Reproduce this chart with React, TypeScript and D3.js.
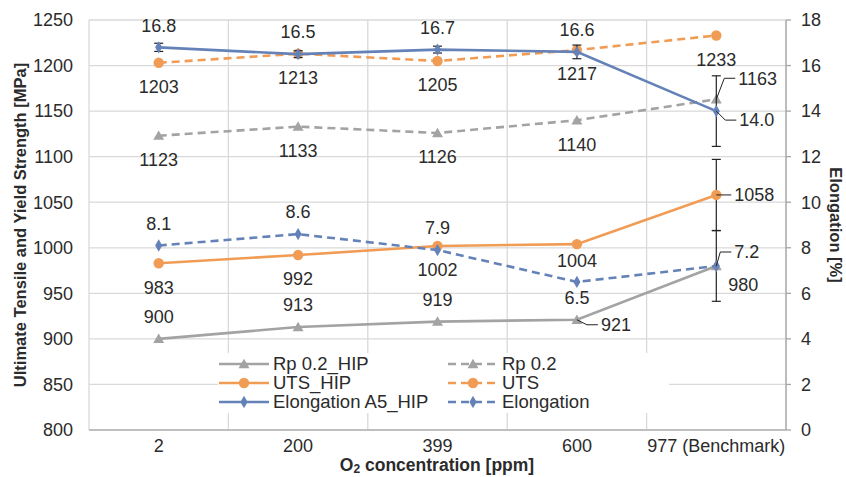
import * as d3 from 'd3';

const categories = ['2', '200', '399', '600', '977 (Benchmark)'];

const rpHip = [900, 913, 919, 921, 980];
const utsHip = [983, 992, 1002, 1004, 1058];
const elongHip = [16.8, 16.5, 16.7, 16.6, 14.0];
const rp = [1123, 1133, 1126, 1140, 1163];
const uts = [1203, 1213, 1205, 1217, 1233];
const elong = [8.1, 8.6, 7.9, 6.5, 7.2];

// error bars
const elongHipErr = [0.18, 0.15, 0.15, 0.3, 1.55];
const utsHipErr = [0, 0, 0, 0, 39];
const elongErr = [0, 0, 0, 0, 1.55];

const leftTicks = [800, 850, 900, 950, 1000, 1050, 1100, 1150, 1200, 1250];
const rightTicks = [0, 2, 4, 6, 8, 10, 12, 14, 16, 18];

const GRAY = '#a3a3a3';
const ORANGE = '#f19c55';
const BLUE = '#6482b8';
const FONT = '"Liberation Sans", Arial, sans-serif';
const TXT = '#2b2b2b';

const W = 846;
const H = 477;
const m = { left: 89, right: 786, top: 20, bottom: 430 };

const x = d3.scaleBand().domain(categories).range([m.left, m.right]).padding(0);
const cx = (i: number) => (x(categories[i]) as number) + x.bandwidth() / 2;
const yL = d3.scaleLinear().domain([800, 1250]).range([m.bottom, m.top]);
const yR = d3.scaleLinear().domain([0, 18]).range([m.bottom, m.top]);

type Pos = { kind: 'above' | 'below' | 'right'; dx?: number; dy?: number; leader?: boolean };
const A: Pos = { kind: 'above' };
const B: Pos = { kind: 'below' };

const series = [
  { name: 'Rp 0.2_HIP', values: rpHip, axis: 'L', color: GRAY, dash: false, marker: 'tri', err: null, fmt: 'd',
    labels: [A, A, A, { kind: 'right', dx: 24, dy: 5, leader: true }, { kind: 'right', dx: 12, dy: 19 }] as Pos[] },
  { name: 'UTS_HIP', values: utsHip, axis: 'L', color: ORANGE, dash: false, marker: 'circle', err: utsHipErr, fmt: 'd',
    labels: [B, B, B, { kind: 'below', dy: -7 }, { kind: 'right', dx: 18, dy: 0, leader: true }] as Pos[] },
  { name: 'Elongation A5_HIP', values: elongHip, axis: 'R', color: BLUE, dash: false, marker: 'diamond', err: elongHipErr, fmt: '.1f',
    labels: [A, A, A, A, { kind: 'right', dx: 23, dy: 9, leader: true }] as Pos[] },
  { name: 'Rp 0.2', values: rp, axis: 'L', color: GRAY, dash: true, marker: 'tri', err: null, fmt: 'd',
    labels: [B, B, B, B, { kind: 'right', dx: 22, dy: -21, leader: true }] as Pos[] },
  { name: 'UTS', values: uts, axis: 'L', color: ORANGE, dash: true, marker: 'circle', err: null, fmt: 'd',
    labels: [B, B, B, B, B] as Pos[] },
  { name: 'Elongation', values: elong, axis: 'R', color: BLUE, dash: true, marker: 'diamond', err: elongErr, fmt: '.1f',
    labels: [A, A, A, { kind: 'below', dy: -8 }, { kind: 'right', dx: 18, dy: -14, leader: true }] as Pos[] },
];

function Marker({ type, x0, y0, color }: { type: string; x0: number; y0: number; color: string }) {
  if (type === 'circle') return <circle cx={x0} cy={y0} r={5.2} fill={color} />;
  const sym = type === 'tri' ? d3.symbolTriangle : d3.symbolDiamond;
  const size = type === 'tri' ? 52 : 44;
  return <path d={d3.symbol(sym, size)() as string} transform={`translate(${x0},${y0 + (type === 'tri' ? 1 : 0)})`} fill={color} />;
}

export default function App() {
  const drawOrder = [0, 1, 3, 4, 2, 5];
  return (
    <svg width={W} height={H} style={{ position: 'absolute', left: 0, top: 0, background: '#fff' }} fontFamily={FONT}>
      <rect width={W} height={H} fill="#fff" />
      {/* gridlines */}
      {leftTicks.map((t) => (
        <line key={'h' + t} x1={m.left} x2={m.right} y1={yL(t)} y2={yL(t)} stroke="#d9d9d9" strokeWidth={1.3} />
      ))}
      {categories.map((c) => (
        <line key={'v' + c} x1={x(c)} x2={x(c)} y1={m.top} y2={m.bottom} stroke="#d9d9d9" strokeWidth={1.3} />
      ))}
      <line x1={m.right} x2={m.right} y1={m.top} y2={m.bottom} stroke="#d9d9d9" strokeWidth={1.3} />
      {/* axes */}
      <line x1={m.left} x2={m.right} y1={m.bottom} y2={m.bottom} stroke="#bfbfbf" strokeWidth={2} />
      <line x1={m.right} x2={m.right} y1={m.top} y2={m.bottom} stroke="#a6a6a6" strokeWidth={1.3} />
      {rightTicks.map((t) => (
        <g key={'r' + t}>
          <line x1={m.right} x2={m.right + 5} y1={yR(t)} y2={yR(t)} stroke="#a6a6a6" strokeWidth={1.3} />
          <text x={801} y={yR(t)} dy="0.35em" fontSize={18} fill={TXT}>{t}</text>
        </g>
      ))}
      {leftTicks.map((t) => (
        <text key={'l' + t} x={73} y={yL(t)} dy="0.35em" fontSize={18} fill={TXT} textAnchor="end">{t}</text>
      ))}
      {categories.map((c, i) => (
        <text key={'x' + c} x={cx(i)} y={446} dy="0.35em" fontSize={18} fill={TXT} textAnchor="middle">{c}</text>
      ))}
      {/* axis titles */}
      <text transform={`translate(26,225) rotate(-90)`} textAnchor="middle" fontSize={16.5} fontWeight="bold" fill={TXT}>
        Ultimate Tensile and Yield Strength [MPa]
      </text>
      <text transform={`translate(830,225)  rotate(90)`} textAnchor="middle" fontSize={16.5} fontWeight="bold" fill={TXT}>
        Elongation [%]
      </text>
      <text x={437} y={471} textAnchor="middle" fontSize={17.5} fontWeight="bold" fill={TXT}>
        O<tspan fontSize={12} dy={2}>2</tspan><tspan dy={-2}> concentration [ppm]</tspan>
      </text>
      {/* legend background */}
      <rect x={218} y={353} width={451} height={60} fill="#fff" />
      {/* series */}
      {drawOrder.map((si) => {
        const s = series[si];
        const y = s.axis === 'L' ? yL : yR;
        const line = d3.line<number>().x((_, i) => cx(i)).y((v) => y(v));
        return (
          <g key={s.name}>
            <path d={line(s.values) as string} fill="none" stroke={s.color} strokeWidth={2.6}
              strokeDasharray={s.dash ? '8,5' : undefined} />
            {s.err && s.values.map((v, i) => s.err![i] > 0 && (
              <g key={'e' + i} stroke="#222" strokeWidth={1.2}>
                <line x1={cx(i)} x2={cx(i)} y1={y(v - s.err![i])} y2={y(v + s.err![i])} />
                <line x1={cx(i) - 4.5} x2={cx(i) + 4.5} y1={y(v - s.err![i])} y2={y(v - s.err![i])} />
                <line x1={cx(i) - 4.5} x2={cx(i) + 4.5} y1={y(v + s.err![i])} y2={y(v + s.err![i])} />
              </g>
            ))}
            {s.values.map((v, i) => (
              <Marker key={'m' + i} type={s.marker} x0={cx(i)} y0={y(v)} color={s.color} />
            ))}
          </g>
        );
      })}
      {/* data labels */}
      {series.map((s) => {
        const y = s.axis === 'L' ? yL : yR;
        const f = d3.format(s.fmt);
        return (
          <g key={'lab' + s.name} fontSize={18} fill={TXT}>
            {s.values.map((v, i) => {
              const p = s.labels[i];
              const px = cx(i);
              const py = y(v);
              if (p.kind === 'above')
                return <text key={i} x={px} y={py - 22 + (p.dy ?? 0)} dy="0.35em" textAnchor="middle">{f(v)}</text>;
              if (p.kind === 'below')
                return <text key={i} x={px} y={py + 24 + (p.dy ?? 0)} dy="0.35em" textAnchor="middle">{f(v)}</text>;
              const lx = px + (p.dx ?? 12);
              const ly = py + (p.dy ?? 0);
              return (
                <g key={i}>
                  {p.leader && (
                    <polyline points={`${px},${py} ${lx - 14},${ly} ${lx - 3},${ly}`} fill="none" stroke="#222" strokeWidth={1} />
                  )}
                  <text x={lx} y={ly} dy="0.35em">{f(v)}</text>
                </g>
              );
            })}
          </g>
        );
      })}
      {/* legend */}
      {series.map((s, i) => {
        const col = i < 3 ? 0 : 1;
        const row = i % 3;
        const lx0 = col === 0 ? 219 : 448;
        const ly = 364 + row * 19;
        return (
          <g key={'lg' + s.name}>
            <line x1={lx0} x2={lx0 + 50} y1={ly} y2={ly} stroke={s.color} strokeWidth={2.6} strokeDasharray={s.dash ? '8,5' : undefined} />
            <Marker type={s.marker} x0={lx0 + 25} y0={ly} color={s.color} />
            <text x={lx0 + 54} y={ly} dy="0.35em" fontSize={18.5} fill={TXT}>{s.name}</text>
          </g>
        );
      })}
    </svg>
  );
}
